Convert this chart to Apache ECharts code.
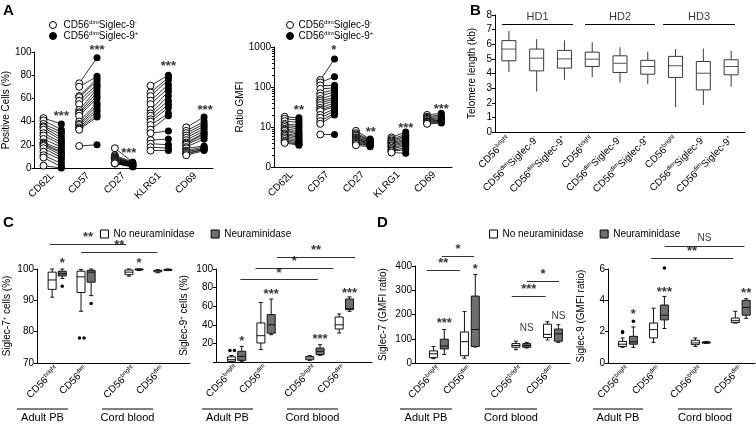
<!DOCTYPE html>
<html>
<head>
<meta charset="utf-8">
<script src="https://cdn.jsdelivr.net/npm/echarts@6.0.0/dist/echarts.min.js"></script>
<style>
html,body{margin:0;padding:0;background:#fff;}
#chart{width:756px;height:425px;}
</style>
</head>
<body>
<div id="chart"></div>
<script>
// ================= DATA =================
// Panel A
const markers = ['CD62L', 'CD57', 'CD27', 'KLRG1', 'CD69'];
const pctSiglecNeg = [
  [43, 41, 38, 36, 35, 33, 30, 28, 25, 22, 21, 20, 19, 17, 14, 11, 9, 2],
  [73, 70, 62, 61, 58, 55, 50, 48, 47, 45, 40, 38, 37, 35, 34, 33, 19],
  [17, 11, 10, 9, 9, 8, 8, 7, 7, 6, 6, 5, 5, 5, 4, 4, 4],
  [71, 65, 62, 58, 55, 50, 47, 45, 42, 40, 37, 33, 30, 24, 21, 18, 15],
  [35, 32, 30, 28, 26, 24, 22, 21, 20, 18, 17, 15, 14, 13, 12, 11]
];
const pctSiglecPos = [
  [38, 33, 31, 29, 26, 24, 22, 20, 18, 16, 14, 13, 11, 9, 7, 4, 1, 0],
  [95, 79, 77, 75, 72, 70, 68, 65, 62, 60, 56, 54, 51, 49, 46, 44, 20],
  [5, 5, 4.5, 4, 4, 3.5, 3, 3, 3, 2.5, 2, 2, 2, 1.5, 1, 1, 1],
  [80, 78, 76, 72, 69, 66, 62, 58, 55, 52, 47, 45, 32, 25, 20, 17, 15],
  [44, 40, 38, 36, 34, 32, 30, 29, 27, 25, 19, 18, 17, 16, 16, 15]
];
const pctStars = ['***', '***', '***', '***', '***'];
const pctStarAt = [[0.75, 47], [1.75, 104], [2.64, 15], [3.75, 90], [4.78, 52]];

const gmfiSiglecNeg = [
  [18, 16, 14, 12, 11, 10, 9, 8.5, 8, 7, 6.5, 6, 5.5, 5, 4.5, 4.2, 4],
  [150, 130, 110, 90, 70, 60, 50, 45, 40, 35, 30, 27, 25, 20, 17, 14, 12, 6.5],
  [8, 7, 6.5, 6, 5.5, 5.3, 5, 4.8, 4.5, 4.3, 4, 3.8, 3.5],
  [5.5, 5, 4.6, 4.3, 4, 3.8, 3.5, 3.3, 3, 2.8, 2.6, 2.5, 2.3],
  [20, 18, 17, 16, 15, 14, 13.5, 13, 12.5, 12]
];
const gmfiSiglecPos = [
  [17, 15, 13, 11, 10, 9, 8, 7, 6.5, 6, 5.5, 5, 4.5, 4.2, 4, 3.7, 3.5],
  [500, 180, 110, 95, 85, 75, 65, 55, 50, 45, 40, 35, 32, 28, 25, 22, 20, 6.5],
  [5, 4.8, 4.6, 4.5, 4.3, 4.2, 4, 3.9, 3.8, 3.6, 3.5, 3.4, 3.2],
  [7.5, 6.5, 6, 5.5, 5, 4.6, 4.3, 4, 3.7, 3.4, 3, 2.7, 2.2],
  [22, 20, 18.5, 17, 16, 15, 14.5, 14, 13, 12.5]
];
const gmfiStars = ['**', '*', '**', '***', '***'];
const gmfiStarAt = [[0.7, 30], [1.68, 950], [2.72, 8.5], [3.7, 11], [4.7, 33]];

// Panel B  (telomere length, kb): [min, q1, median, q3, max]
const telSubsets = ['bright', 'dim-', 'dim+', 'bright', 'dim-', 'dim+', 'bright', 'dim-', 'dim+'];
const telBoxes = [
  [4.1, 4.87, 5.67, 6.25, 6.9],
  [2.77, 4.18, 5.05, 5.67, 6.35],
  [3.57, 4.37, 5.0, 5.58, 6.26],
  [3.75, 4.48, 4.98, 5.46, 6.13],
  [3.38, 4.07, 4.7, 5.21, 5.8],
  [3.27, 3.95, 4.48, 4.9, 5.5],
  [1.7, 3.73, 4.53, 5.17, 5.67],
  [1.85, 2.88, 4.02, 4.82, 5.71],
  [3.1, 3.91, 4.48, 4.94, 5.55]
];
const donors = ['HD1', 'HD2', 'HD3'];
const donorSpans = [[-0.25, 2.31], [2.74, 5.26], [5.55, 8.14]];
const donorLineY = 7.4;
const donorTextY = 7.85;

// Panels C & D: subsets per group
const nkSubsets = ['bright', 'dim', 'bright', 'dim'];
const sources = ['Adult PB', 'Cord blood'];

// C left: Siglec-7+ cells (%)
const s7pctNo = [[91, 93.5, 96.5, 99, 100], [86.5, 92.5, 97.5, 99.3, 99.8], [97.7, 98.2, 99, 99.7, 100], [98.8, 99.1, 99.4, 99.6, 99.8]];
const s7pctNeu = [[97, 97.8, 98.5, 99.3, 100], [91.5, 95.8, 99, 99.6, 100], [99.5, 99.7, 99.9, 100, 100], [99.5, 99.6, 99.7, 99.9, 100]];
const s7pctOutliers = [[1, 0, 78], [1, 0, 78], [0, 1, 94.5], [1, 1, 89]];
const s7pctStars = [[0, 1, 102.7, '*'], [2, 1, 102.7, '*']];
const s7pctBars = [[0.75, 3.39, 107.9, '**'], [1.83, 4.47, 105.5, '**']];

// C right: Siglec-9+ cells (%)
const s9pctNo = [[0, 0.7, 2.5, 5.5, 7], [13.3, 20.4, 28.3, 42, 64], [1.8, 2.5, 4.3, 6, 6.8], [31.2, 35.5, 40, 48.4, 51.6]];
const s9pctNeu = [[0.7, 1.8, 6, 11.5, 16.8], [29.4, 31, 40, 51, 67.7], [7.2, 7.9, 11.5, 15, 18.6], [54.5, 56.3, 57.3, 67.7, 70]];
const s9pctOutliers = [[0, 0, 12.5], [0, 0, 12.5]];
const s9pctStars = [[0, 1, 25.8, '*'], [1, 1, 76, '***'], [2, 1, 27.6, '***'], [3, 1, 76.7, '***']];
const s9pctBars = [[1.13, 3.76, 88.5, '*'], [1.64, 4.28, 101, '*'], [2.37, 5.03, 112.5, '**']];

// D left: Siglec-7 (GMFI ratio)
const s7gmfiNo = [[18, 22, 38, 50, 68], [20, 30, 88, 128, 212], [55, 65, 72, 80, 90], [95, 105, 118, 160, 170]];
const s7gmfiNeu = [[35, 58, 70, 98, 138], [66, 68, 138, 276, 365], [62, 65, 72, 80, 85], [85, 90, 120, 140, 158]];
const s7gmfiOutliers = [];
const s7gmfiStars = [[0, 1, 176, '***'], [1, 1, 397, '*'], [2, 1, 142, 'NS'], [3, 1, 193, 'NS']];
const s7gmfiBars = [[0.61, 1.68, 383, '**'], [1.09, 2.14, 441, '*'], [3.35, 4.45, 276, '***'], [3.84, 4.88, 338, '*']];

// D right: Siglec-9 (GMFI ratio)
const s9gmfiNo = [[1.0, 1.06, 1.2, 1.38, 1.6], [1.32, 1.6, 2.13, 2.55, 3.5], [1.06, 1.17, 1.28, 1.45, 1.6], [2.55, 2.58, 2.7, 2.87, 3.3]];
const s9gmfiNeu = [[1.0, 1.2, 1.35, 1.7, 2.3], [2.2, 2.75, 3.05, 3.7, 4.25], [1.25, 1.27, 1.3, 1.35, 1.38], [2.85, 3.05, 3.55, 4.0, 4.1]];
const s9gmfiOutliers = [[0, 0, 2.0], [0, 0, 1.95], [0, 1, 2.66], [1, 1, 6.06]];
const s9gmfiStars = [[0, 1, 3.3, '*'], [1, 1, 4.68, '***'], [3, 1, 4.64, '**']];
const s9gmfiBars = [[1.75, 4.39, 6.7, '**'], [2.18, 4.76, 7.45, 'NS']];

// ================= STYLE / LAYOUT =================
const FONT = "'Liberation Sans', Arial, Helvetica, sans-serif";
const GREY = '#6f6f6f';
function richSet(size) {
  return {
    n: {fontSize: size, fontFamily: FONT, color: '#000', lineHeight: size + 2},
    s: {fontSize: Math.round(size * 0.62), fontFamily: FONT, color: '#000', verticalAlign: 'top', lineHeight: Math.round(size * 0.7)}
  };
}
const RICH10 = richSet(10);
const supLabel = {
  'bright': '{n|CD56}{s|bright}',
  'dim': '{n|CD56}{s|dim}',
  'dim-': '{n|CD56}{s|dim}{n|Siglec-9}{s|-}',
  'dim+': '{n|CD56}{s|dim}{n|Siglec-9}{s|+}'
};

const grids = [
  {left: 33, top: 52, width: 180, height: 116},   // A left
  {left: 274, top: 47, width: 178, height: 120},  // A right
  {left: 495, top: 15, width: 250, height: 117},  // B
  {left: 32, top: 269, width: 158, height: 94},   // C left
  {left: 216, top: 269, width: 156, height: 93},  // C right
  {left: 415, top: 266, width: 155, height: 97},  // D left
  {left: 608, top: 269, width: 147, height: 94}   // D right
];

function yAxisDef(grid, cfg) {
  return {
    gridIndex: grid, type: cfg.type || 'value', min: cfg.min, max: cfg.max, interval: cfg.interval,
    logBase: cfg.logBase,
    axisLine: {show: true, onZero: false, lineStyle: {color: '#000', width: 1}},
    axisTick: {show: true, length: 3, lineStyle: {color: '#000'}},
    minorTick: cfg.minorTick || {show: false},
    splitLine: {show: false},
    axisLabel: {fontSize: 10, color: '#000', fontFamily: FONT, margin: 3, formatter: cfg.formatter},
    name: cfg.name, nameLocation: 'middle', nameGap: cfg.nameGap,
    nameTextStyle: {fontSize: 10, color: '#000', fontFamily: FONT, rich: RICH10}
  };
}
function xAxisDef(grid, cfg) {
  return {
    gridIndex: grid, type: 'value', min: cfg.min, max: cfg.max,
    axisLine: {show: true, onZero: false, lineStyle: {color: '#000', width: 1}},
    axisTick: {show: false},
    splitLine: {show: false},
    axisLabel: {
      customValues: cfg.values, formatter: cfg.formatter, rotate: 45,
      fontSize: 10, color: '#000', fontFamily: FONT, margin: cfg.margin || 5, rich: RICH10
    }
  };
}

function idxOf(arr, v) {
  let best = 0;
  arr.forEach((p, i) => { if (Math.abs(p - v) < Math.abs(arr[best] - v)) best = i; });
  return best;
}

function textLabel(extra) {
  return {
    show: true, color: '#000', fontFamily: FONT,
    formatter: p => p.value[2],
    ...extra
  };
}
// significance text: asterisks are bold & larger; 'NS' plain
function textScatter(grid, data, position) {
  const stars = data.filter(d => d[2].indexOf('*') >= 0);
  const words = data.filter(d => d[2].indexOf('*') < 0);
  const out = [];
  const inside = position === 'inside';
  if (stars.length) out.push({
    type: 'scatter', xAxisIndex: grid, yAxisIndex: grid, symbolSize: 0, clip: false, silent: true, z: 5,
    data: stars, label: textLabel({position: position, distance: 0, fontSize: 13, fontWeight: 'bold', offset: inside ? [0, 3] : [0, 0]})
  });
  if (words.length) out.push({
    type: 'scatter', xAxisIndex: grid, yAxisIndex: grid, symbolSize: 0, clip: false, silent: true, z: 5,
    data: words, label: textLabel({position: position, distance: 3, fontSize: 10})
  });
  return out;
}

const xAxes = [], yAxes = [], series = [];

// ---------- Panel A ----------
function pairedPanel(grid, negArr, posArr, dOff, stars, starAt) {
  const lines = [], negPts = [], posPts = [];
  negArr.forEach((neg, i) => {
    const pos = posArr[i];
    neg.forEach((v, j) => {
      const xa = i + 0.5 - dOff, xb = i + 0.5 + dOff;
      lines.push({coords: [[xa, v], [xb, pos[j]]]});
      negPts.push([xa, v]);
    });
    pos.forEach(v => posPts.push([i + 0.5 + dOff, v]));
  });
  series.push({
    type: 'lines', coordinateSystem: 'cartesian2d', xAxisIndex: grid, yAxisIndex: grid,
    data: lines, silent: true, z: 1, lineStyle: {color: '#000', width: 0.8, opacity: 1}
  });
  series.push({
    type: 'scatter', name: 'neg', xAxisIndex: grid, yAxisIndex: grid, data: negPts, symbol: 'circle', symbolSize: 7, z: 2,
    itemStyle: {color: '#fff', borderColor: '#000', borderWidth: 1, opacity: 1}
  });
  series.push({
    type: 'scatter', name: 'pos', xAxisIndex: grid, yAxisIndex: grid, data: posPts, symbol: 'circle', symbolSize: 7, z: 3,
    itemStyle: {color: '#000', opacity: 1}
  });
  series.push(...textScatter(grid, stars.map((s, i) => [starAt[i][0], starAt[i][1], s]), 'inside'));
}
const markerCenters = [0.5, 1.5, 2.5, 3.5, 4.5];
xAxes.push(xAxisDef(0, {min: 0, max: 5, values: markerCenters, formatter: v => markers[idxOf(markerCenters, v)], margin: 6}));
yAxes.push(yAxisDef(0, {min: 0, max: 100, interval: 20, name: 'Positive Cells (%)', nameGap: 23}));
pairedPanel(0, pctSiglecNeg, pctSiglecPos, 0.25, pctStars, pctStarAt);

xAxes.push(xAxisDef(1, {min: 0, max: 5, values: markerCenters, formatter: v => markers[idxOf(markerCenters, v)], margin: 6}));
yAxes.push(yAxisDef(1, {type: 'log', logBase: 10, min: 1, max: 1000, name: 'Ratio GMFI', nameGap: 28,
  formatter: v => (v === 1 ? '0' : String(v)),
  minorTick: {show: true, splitNumber: 9, length: 2, lineStyle: {color: '#000'}}}));
pairedPanel(1, gmfiSiglecNeg, gmfiSiglecPos, 0.2, gmfiStars, gmfiStarAt);

// ---------- box renderer ----------
function boxRenderer(halfW, capW, fill, stroke, medStroke) {
  return function (params, api) {
    const x = api.value(0);
    const pts = [1, 2, 3, 4, 5].map(d => api.coord([x, api.value(d)]));
    const cx = pts[0][0];
    const yMin = pts[0][1], yQ1 = pts[1][1], yMed = pts[2][1], yQ3 = pts[3][1], yMax = pts[4][1];
    const ls = {stroke: stroke, lineWidth: 1, fill: null};
    const ch = [
      {type: 'line', shape: {x1: cx, y1: yMin, x2: cx, y2: yQ1}, style: ls},
      {type: 'line', shape: {x1: cx, y1: yQ3, x2: cx, y2: yMax}, style: ls},
      {type: 'rect', shape: {x: cx - halfW, y: yQ3, width: halfW * 2, height: Math.max(yQ1 - yQ3, 1)},
        style: {fill: fill, stroke: stroke, lineWidth: 1}},
      {type: 'line', shape: {x1: cx - halfW, y1: yMed, x2: cx + halfW, y2: yMed}, style: {stroke: medStroke, lineWidth: 1}}
    ];
    if (capW > 0) {
      ch.push({type: 'line', shape: {x1: cx - capW, y1: yMin, x2: cx + capW, y2: yMin}, style: ls});
      ch.push({type: 'line', shape: {x1: cx - capW, y1: yMax, x2: cx + capW, y2: yMax}, style: ls});
    }
    return {type: 'group', children: ch};
  };
}

// ---------- Panel B ----------
const telPos = telSubsets.map((s, i) => i);
xAxes.push(xAxisDef(2, {min: -0.5, max: 8.5, values: telPos, formatter: v => supLabel[telSubsets[Math.round(v)]], margin: 6}));
yAxes.push(yAxisDef(2, {min: 0, max: 8, interval: 1, name: 'Telomere length (kb)', nameGap: 18}));
series.push({
  type: 'custom', xAxisIndex: 2, yAxisIndex: 2, silent: true, z: 2,
  renderItem: boxRenderer(7, 0, '#fff', '#3a3a3a', '#555'),
  encode: {x: 0, y: [1, 2, 3, 4, 5]},
  data: telBoxes.map((b, i) => [telPos[i]].concat(b))
});
series.push({
  type: 'lines', coordinateSystem: 'cartesian2d', xAxisIndex: 2, yAxisIndex: 2, silent: true, clip: false,
  lineStyle: {color: '#000', width: 1, opacity: 1},
  data: donorSpans.map(s => ({coords: [[s[0], donorLineY], [s[1], donorLineY]]}))
});
series.push({
  type: 'scatter', xAxisIndex: 2, yAxisIndex: 2, symbolSize: 0, silent: true, clip: false,
  data: donorSpans.map((s, i) => [(s[0] + s[1]) / 2, donorTextY, donors[i]]),
  label: {show: true, position: 'inside', formatter: p => p.value[2], fontSize: 11, color: '#000', fontFamily: FONT}
});

// ---------- Panels C/D ----------
function boxPanel(grid, pos, xmin, xmax, ycfg, noArr, neuArr, outliers, stars, bars) {
  const dx = 0.175;
  xAxes.push(xAxisDef(grid, {min: xmin, max: xmax, values: pos, formatter: v => supLabel[nkSubsets[idxOf(pos, v)]], margin: 5}));
  yAxes.push(yAxisDef(grid, ycfg));
  const bx = (cat, trt) => pos[cat] + (trt ? dx : -dx);
  series.push({
    type: 'custom', name: 'No neuraminidase', xAxisIndex: grid, yAxisIndex: grid, silent: true, z: 2,
    renderItem: boxRenderer(4, 2, '#fff', '#111', '#111'),
    itemStyle: {color: '#fff', borderColor: '#000'},
    encode: {x: 0, y: [1, 2, 3, 4, 5]},
    data: noArr.map((b, i) => [bx(i, 0)].concat(b))
  });
  series.push({
    type: 'custom', name: 'Neuraminidase', xAxisIndex: grid, yAxisIndex: grid, silent: true, z: 2,
    renderItem: boxRenderer(4, 2, GREY, '#111', '#111'),
    itemStyle: {color: GREY, borderColor: '#000'},
    encode: {x: 0, y: [1, 2, 3, 4, 5]},
    data: neuArr.map((b, i) => [bx(i, 1)].concat(b))
  });
  if (outliers.length) {
    const seen = {};
    series.push({
      type: 'scatter', xAxisIndex: grid, yAxisIndex: grid, symbolSize: 3.5, silent: true, clip: false, z: 3,
      itemStyle: {color: '#000', opacity: 1},
      data: outliers.map(o => {
        const key = o[0] + '_' + o[1] + '_' + o[2];
        seen[key] = (seen[key] || 0) + 1;
        const item = {value: [bx(o[0], o[1]), o[2]]};
        if (seen[key] > 1) item.symbolOffset = [3, 0];
        else if (outliers.filter(q => q[0] === o[0] && q[1] === o[1] && q[2] === o[2]).length > 1) item.symbolOffset = [-1.5, 0];
        return item;
      })
    });
  }
  series.push({
    type: 'lines', coordinateSystem: 'cartesian2d', xAxisIndex: grid, yAxisIndex: grid, silent: true, clip: false,
    lineStyle: {color: '#333', width: 1, opacity: 1},
    data: bars.map(b => ({coords: [[b[0], b[2]], [b[1], b[2]]]}))
  });
  series.push(...textScatter(grid, bars.map(b => [(b[0] + b[1]) / 2, b[2], b[3]]), 'top'));
  series.push(...textScatter(grid, stars.map(s => [bx(s[0], s[1]), s[2], s[3]]), 'inside'));
}

boxPanel(3, [1, 2, 3.66, 4.66], 0.3, 5.6,
  {min: 70, max: 100, interval: 10, name: '{n|Siglec-7}{s|+}{n| cells (%)}', nameGap: 24},
  s7pctNo, s7pctNeu, s7pctOutliers, s7pctStars, s7pctBars);
boxPanel(4, [1, 2, 3.66, 4.66], 0.3, 5.6,
  {min: 0, max: 100, interval: 20, name: '{n|Siglec-9}{s|+}{n| cells (%)}', nameGap: 26, formatter: v => (v === 0 ? '' : String(v))},
  s9pctNo, s9pctNeu, s9pctOutliers, s9pctStars, s9pctBars);
boxPanel(5, [1, 2, 3.66, 4.68], 0.23, 5.23,
  {min: 0, max: 400, interval: 100, name: 'Siglec-7 (GMFI ratio)', nameGap: 27},
  s7gmfiNo, s7gmfiNeu, s7gmfiOutliers, s7gmfiStars, s7gmfiBars);
boxPanel(6, [1, 2, 3.35, 4.64], 0.355, 5.1,
  {min: 0, max: 6, interval: 2, name: 'Siglec-9 (GMFI ratio)', nameGap: 22},
  s9gmfiNo, s9gmfiNeu, s9gmfiOutliers, s9gmfiStars, s9gmfiBars);

// ---------- legends ----------
const legendText = {fontSize: 10, color: '#000', fontFamily: FONT, rich: RICH10};
const aLegendData = [
  {name: 'neg', icon: 'circle', itemStyle: {color: '#fff', borderColor: '#000', borderWidth: 1}},
  {name: 'pos', icon: 'circle', itemStyle: {color: '#000', borderColor: '#000', borderWidth: 1}}
];
const aLegendFmt = n => (n === 'neg' ? supLabel['dim-'] : supLabel['dim+']);
const nLegendData = [
  {name: 'No neuraminidase', icon: 'rect', itemStyle: {color: '#fff', borderColor: '#000', borderWidth: 1}},
  {name: 'Neuraminidase', icon: 'rect', itemStyle: {color: GREY, borderColor: '#000', borderWidth: 1}}
];
const legends = [
  {left: 44, top: 14, orient: 'vertical', itemWidth: 7, itemHeight: 7, itemGap: 0, selectedMode: false,
    data: aLegendData, formatter: aLegendFmt, textStyle: {...legendText, padding: [0, 0, 0, 2]}},
  {left: 281, top: 14, orient: 'vertical', itemWidth: 7, itemHeight: 7, itemGap: 0, selectedMode: false,
    data: aLegendData, formatter: aLegendFmt, textStyle: legendText},
  {left: 95, top: 224, orient: 'horizontal', itemWidth: 8, itemHeight: 8, itemGap: 16, selectedMode: false,
    data: nLegendData, textStyle: legendText},
  {left: 484, top: 224, orient: 'horizontal', itemWidth: 8, itemHeight: 8, itemGap: 16, selectedMode: false,
    data: nLegendData, textStyle: legendText}
];

// ---------- annotations (panel letters, group brackets) ----------
const graphic = [];
[['A', 3, 3], ['B', 470, 3], ['C', 3, 215], ['D', 377, 215]].forEach(l => {
  graphic.push({type: 'text', left: l[1], top: l[2], style: {text: l[0], font: 'bold 15px ' + FONT, fill: '#000'}});
});
const brackets = [
  [[17, 68], [102, 153]],
  [[202, 253], [287, 338]],
  [[400, 452], [485, 537]],
  [[593, 643], [678, 732]]
];
brackets.forEach(pair => {
  pair.forEach((b, i) => {
    graphic.push({type: 'line', shape: {x1: b[0], y1: 409, x2: b[1], y2: 409}, style: {stroke: '#000', lineWidth: 1}});
    graphic.push({type: 'text', x: (b[0] + b[1]) / 2, y: 412,
      style: {text: sources[i], font: '11px ' + FONT, fill: '#000', textAlign: 'center', align: 'center', textVerticalAlign: 'top', verticalAlign: 'top'}});
  });
});

const chart = echarts.init(document.getElementById('chart'), null, {renderer: 'canvas'});
chart.setOption({
  animation: false,
  backgroundColor: '#fff',
  textStyle: {fontFamily: FONT},
  grid: grids,
  xAxis: xAxes,
  yAxis: yAxes,
  legend: legends,
  graphic: graphic,
  series: series
});
</script>
</body>
</html>
